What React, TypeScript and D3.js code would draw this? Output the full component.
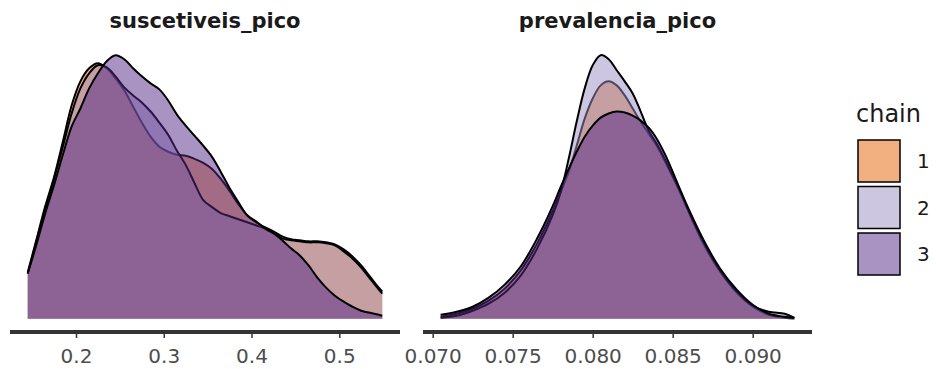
import { useEffect, useRef } from "react";
import * as d3 from "d3";

// chains and their fills (drawn at half opacity)
const chains = ["1", "2", "3"];
const chainColors = ["#e66101", "#998ec3", "#542788"];

// suscetiveis_pico: x grid and relative density per chain (no y axis in the original)
const suscX = [0.145, 0.155, 0.165, 0.175, 0.185, 0.195, 0.205, 0.215, 0.225, 0.235, 0.245, 0.255, 0.265, 0.275,
  0.285, 0.295, 0.305, 0.315, 0.325, 0.335, 0.345, 0.355, 0.365, 0.375, 0.385, 0.395, 0.405, 0.415, 0.425, 0.435,
  0.445, 0.455, 0.465, 0.475, 0.485, 0.495, 0.505, 0.515, 0.525, 0.535, 0.545, 0.549];
const suscChain1 = [46, 79, 112, 141, 176, 212, 236, 249, 254, 249, 239, 227, 211, 195, 181, 171, 166, 163, 162, 159,
  155, 149, 139, 127, 114, 103, 96, 91, 87, 82, 79, 78, 77, 77, 76, 74, 69, 62, 53, 42, 31, 27];
const suscChain2 = [45, 77, 109, 139, 171, 204, 229, 244, 252, 250, 241, 230, 222, 215, 206, 195, 183, 167, 153, 135,
  118, 111, 105, 102, 99, 96, 93, 90, 85, 80, 78, 77, 76, 76, 75, 73, 67, 60, 51, 40, 29, 25];
const suscChain3 = [45, 74, 105, 133, 163, 191, 209, 229, 244, 256, 262, 258, 249, 241, 234, 228, 217, 203, 192, 182,
  172, 161, 146, 130, 116, 103, 97, 90, 85, 78, 70, 63, 53, 41, 31, 23, 17, 12, 8, 6, 4, 3];
const suscTicks = [0.2, 0.3, 0.4, 0.5];

// prevalencia_pico
const prevX = [0.0705, 0.0715, 0.0725, 0.0735, 0.0745, 0.0755, 0.0765, 0.0775, 0.078, 0.0785, 0.079, 0.0795, 0.08,
  0.0805, 0.081, 0.0815, 0.082, 0.0825, 0.083, 0.0835, 0.084, 0.0845, 0.085, 0.0855, 0.086, 0.087, 0.088, 0.089,
  0.09, 0.091, 0.092, 0.0926];
const prevChain1 = [2, 5, 10, 18, 30, 48, 74, 107, 126, 146, 172, 199, 219, 232, 236, 232, 222, 209, 196, 184, 172,
  157, 141, 124, 106, 72, 46, 26, 12, 4, 1, 0.3];
const prevChain2 = [1, 3, 8, 15, 26, 43, 69, 103, 126, 159, 196, 229, 252, 262, 258, 247, 236, 224, 206, 187, 174,
  159, 142, 126, 107, 74, 47, 27, 13, 7, 5, 1];
const prevChain3 = [4, 7, 12, 21, 34, 52, 79, 112, 131, 149, 166, 181, 192, 200, 204, 206, 205, 202, 197, 190, 179,
  164, 146, 127, 109, 76, 49, 29, 14, 5, 2, 1];
const prevTicks = [0.07, 0.075, 0.08, 0.085, 0.09];

const panels = [
  { title: "suscetiveis_pico", x: suscX, dens: [suscChain1, suscChain2, suscChain3], ticks: suscTicks, fmt: ".1f", left: 10, right: 400 },
  { title: "prevalencia_pico", x: prevX, dens: [prevChain1, prevChain2, prevChain3], ticks: prevTicks, fmt: ".3f", left: 423, right: 812 },
];

const font = "DejaVu Sans, sans-serif";

export default function App() {
  const svgRef = useRef<SVGSVGElement>(null);
  const width = 936;
  const height = 369;
  const top = 42;
  const bottom = 332;

  useEffect(() => {
    const svg = d3.select(svgRef.current);
    svg.selectAll("*").remove();

    panels.forEach((p) => {
      const [lo, hi] = d3.extent(p.x) as [number, number];
      const pad = (hi - lo) * 0.05;
      const x = d3.scaleLinear().domain([lo - pad, hi + pad]).range([p.left, p.right]);
      const ymax = d3.max(p.dens.flat()) as number;
      const y = d3.scaleLinear().domain([-0.05 * ymax, 1.05 * ymax]).range([bottom, top]);

      const g = svg.append("g");
      const area = d3.area<[number, number]>()
        .x((d) => x(d[0]))
        .y0(y(0))
        .y1((d) => y(d[1]))
        .curve(d3.curveCatmullRom);
      const line = d3.line<[number, number]>()
        .x((d) => x(d[0]))
        .y((d) => y(d[1]))
        .curve(d3.curveCatmullRom);

      p.dens.forEach((dens, i) => {
        const pts = p.x.map((v, j) => [v, dens[j]] as [number, number]);
        g.append("path").attr("d", area(pts)).attr("fill", chainColors[i]).attr("fill-opacity", 0.5);
        g.append("path").attr("d", line(pts)).attr("fill", "none").attr("stroke", "#000").attr("stroke-width", 2);
      });

      const axis = g.append("g")
        .attr("transform", `translate(0,${bottom})`)
        .call(d3.axisBottom(x).tickValues(p.ticks).tickFormat(d3.format(p.fmt)).tickSizeOuter(0).tickSize(6).tickPadding(11));
      axis.select(".domain").remove();
      axis.append("line")
        .attr("x1", p.left).attr("x2", p.right)
        .attr("stroke", "#333").attr("stroke-width", 4);
      axis.selectAll(".tick line").attr("stroke", "#333").attr("stroke-width", 1.5);
      axis.selectAll(".tick text").attr("fill", "#4d4d4d").attr("font-size", 20).attr("font-family", font);

      g.append("text")
        .attr("x", (p.left + p.right) / 2)
        .attr("y", 28)
        .attr("text-anchor", "middle")
        .attr("font-family", font)
        .attr("font-weight", "bold")
        .attr("font-size", 21)
        .attr("fill", "#1a1a1a")
        .text(p.title);
    });

    // legend
    const legend = svg.append("g");
    legend.append("text")
      .attr("x", 856).attr("y", 122)
      .attr("font-family", font).attr("font-size", 24).attr("fill", "#1a1a1a")
      .text("chain");
    legend.selectAll("rect")
      .data(chains)
      .join("rect")
      .attr("x", 858)
      .attr("y", (d, i) => 140 + i * 46.5)
      .attr("width", 42)
      .attr("height", 42)
      .attr("fill", (d, i) => chainColors[i])
      .attr("fill-opacity", 0.5)
      .attr("stroke", "#000")
      .attr("stroke-width", 1.5);
    legend.selectAll("text.lab")
      .data(chains)
      .join("text")
      .attr("class", "lab")
      .attr("x", 917)
      .attr("y", (d, i) => 161 + i * 46.5)
      .attr("dy", "0.35em")
      .attr("font-family", font).attr("font-size", 20).attr("fill", "#1a1a1a")
      .text((d) => d);
  }, []);

  return (
    <svg
      ref={svgRef}
      width={width}
      height={height}
      viewBox={`0 0 ${width} ${height}`}
      style={{ position: "absolute", left: 0, top: 0, background: "#fff" }}
    />
  );
}
